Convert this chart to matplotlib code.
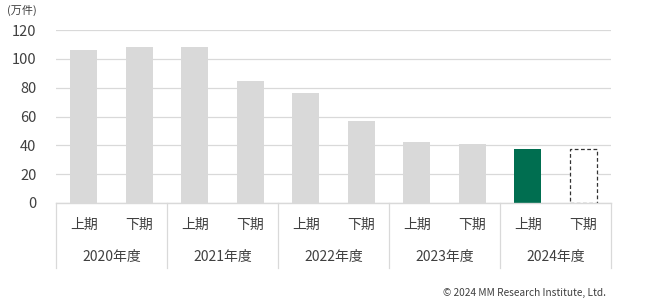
import matplotlib
matplotlib.use("Agg")
import matplotlib.pyplot as plt
import matplotlib.transforms as mtransforms

plt.rcParams["font.family"] = ["Noto Sans CJK JP", "DejaVu Sans"]

years = ["2020年度", "2021年度", "2022年度", "2023年度", "2024年度"]
halves = ["上期", "下期"]
values = [106.4, 108.2, 108.0, 84.3, 76.4, 57.1, 42.0, 40.9, 37.8, 37.3]
y_ticks = [0, 20, 40, 60, 80, 100, 120]

GREY = "#D9D9D9"
GREEN = "#006E50"
TEXT = "#404040"

fig = plt.figure(figsize=(6.65, 3.01), dpi=100)
ax = fig.add_axes([56 / 665, 1 - 203 / 301, 555 / 665, 173 / 301])

n = len(values)
x = list(range(n))
colors = [GREY] * (n - 2) + [GREEN, "white"]
bars = ax.bar(x, values, width=0.49, color=colors, zorder=3)
# last bar: forecast, dashed outline
bars[-1].set_edgecolor("#333333")
bars[-1].set_linestyle((0, (3, 2)))
bars[-1].set_linewidth(0.9)

ax.set_xlim(-0.5, n - 0.5)
ax.set_ylim(0, 120)
ax.set_yticks(y_ticks)
ax.set_yticklabels([str(t) for t in y_ticks], fontsize=10.5, color=TEXT)
ax.yaxis.grid(True, color=GREY, linewidth=0.9, zorder=0)
ax.tick_params(axis="y", length=0, pad=14)
ax.tick_params(axis="x", length=0)
ax.set_xticks([])
for s in ["left", "right", "top"]:
    ax.spines[s].set_visible(False)
ax.spines["bottom"].set_color(GREY)
ax.spines["bottom"].set_linewidth(1.0)
ax.spines["bottom"].set_zorder(4)

# two-level category axis
trans = mtransforms.blended_transform_factory(ax.transData, fig.transFigure)
for i in range(n):
    ax.text(i, 1 - 225 / 301, halves[i % 2], transform=trans, ha="center",
            va="center", fontsize=10, color=TEXT)
for j, yr in enumerate(years):
    ax.text(2 * j + 0.5, 1 - 257 / 301, yr, transform=trans, ha="center",
            va="center", fontsize=10, color=TEXT)
for k in range(len(years) + 1):
    xs = 2 * k - 0.5
    ax.plot([xs, xs], [1 - 203 / 301, 1 - 268 / 301], transform=trans,
            color=GREY, linewidth=0.9, clip_on=False)

fig.text(7 / 665, 1 - 10 / 301, "(万件)", ha="left", va="center",
         fontsize=8, color=TEXT)
fig.text(606 / 665, 1 - 293 / 301, "© 2024 MM Research Institute, Ltd.",
         ha="right", va="center", fontsize=7.3, color=TEXT)

fig.savefig("out.png", dpi=100)
